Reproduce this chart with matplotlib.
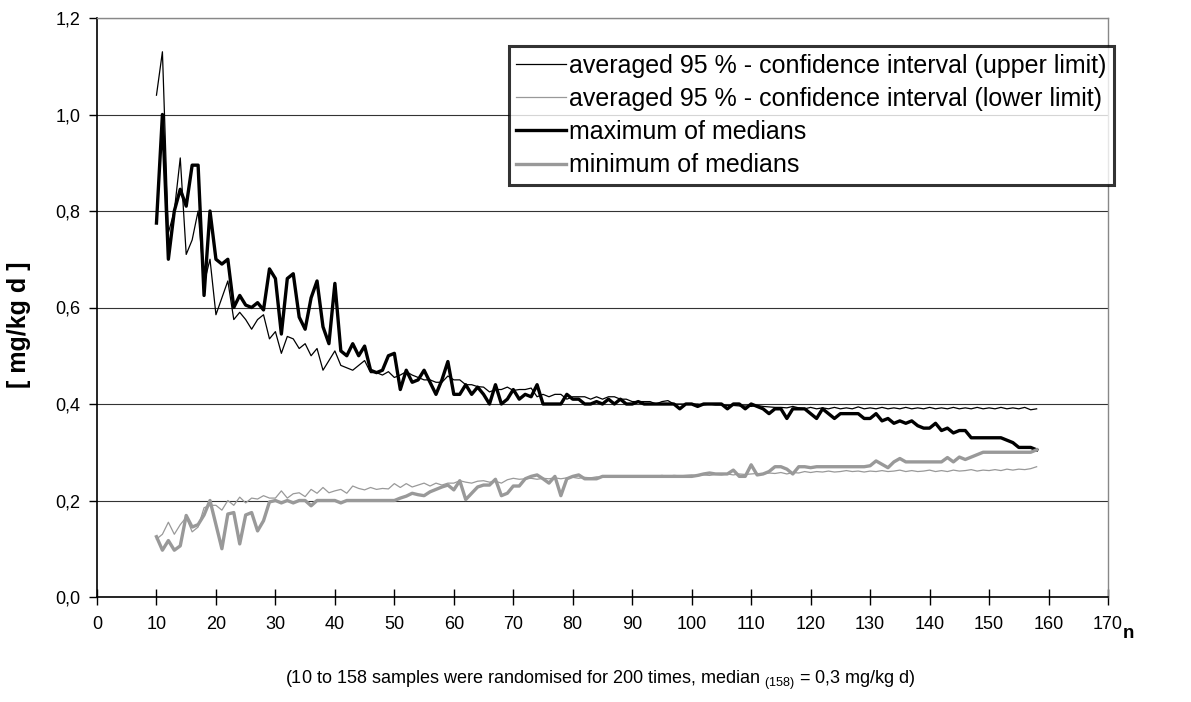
import numpy as np
import matplotlib
matplotlib.use("Agg")
import matplotlib.pyplot as plt

plt.rcParams["font.family"] = ["Liberation Sans", "DejaVu Sans"]
plt.rcParams["mathtext.fontset"] = "custom"
plt.rcParams["mathtext.rm"] = "Liberation Sans"

n_start = 10
n_end = 158

# averaged 95 % - confidence interval (upper limit)
upper = [
    1.04, 1.13, 0.755, 0.80, 0.91, 0.71, 0.74, 0.80, 0.65, 0.70,
    0.585, 0.62, 0.655, 0.575, 0.59, 0.575, 0.555, 0.575, 0.585, 0.535,
    0.55, 0.505, 0.54, 0.535, 0.515, 0.525, 0.50, 0.515, 0.47, 0.49,
    0.51, 0.48, 0.475, 0.47, 0.48, 0.49, 0.465, 0.465, 0.46, 0.467,
    0.455, 0.46, 0.467, 0.46, 0.455, 0.45, 0.45, 0.445, 0.445, 0.458,
    0.45, 0.45, 0.44, 0.44, 0.436, 0.435, 0.425, 0.43, 0.43, 0.435,
    0.428, 0.43, 0.43, 0.433, 0.415, 0.42, 0.415, 0.42, 0.42, 0.41,
    0.415, 0.415, 0.415, 0.41, 0.415, 0.41, 0.415, 0.415, 0.41, 0.41,
    0.405, 0.405, 0.405, 0.405, 0.40, 0.405, 0.407, 0.40, 0.40, 0.40,
    0.40, 0.40, 0.398, 0.40, 0.398, 0.398, 0.397, 0.397, 0.396, 0.396,
    0.395, 0.397, 0.395, 0.394, 0.393, 0.393, 0.392, 0.395, 0.392, 0.39,
    0.393, 0.39, 0.392, 0.39, 0.393, 0.39, 0.392, 0.39, 0.394, 0.39,
    0.392, 0.39, 0.393, 0.39, 0.392, 0.39, 0.393, 0.39, 0.392, 0.39,
    0.393, 0.39, 0.392, 0.39, 0.393, 0.39, 0.392, 0.39, 0.393, 0.39,
    0.392, 0.39, 0.393, 0.39, 0.392, 0.39, 0.393, 0.388, 0.39,
]

# averaged 95 % - confidence interval (lower limit)
lower = [
    0.12, 0.13, 0.155, 0.13, 0.15, 0.165, 0.135, 0.145, 0.185, 0.19,
    0.19, 0.18, 0.20, 0.19, 0.207, 0.195, 0.205, 0.203, 0.21, 0.205,
    0.205, 0.22, 0.205, 0.214, 0.216, 0.208, 0.223, 0.215, 0.227, 0.216,
    0.22, 0.223, 0.215, 0.23, 0.225, 0.222, 0.227, 0.223, 0.225, 0.224,
    0.235, 0.227, 0.235, 0.228, 0.232, 0.236, 0.23, 0.236, 0.232, 0.236,
    0.236, 0.241, 0.238, 0.236, 0.24, 0.241, 0.238, 0.24, 0.236, 0.243,
    0.246, 0.244, 0.245, 0.246, 0.244, 0.246, 0.245, 0.247, 0.245, 0.247,
    0.248, 0.246, 0.248, 0.247, 0.249, 0.248, 0.25, 0.248, 0.25, 0.249,
    0.25, 0.251, 0.249, 0.251, 0.25, 0.252, 0.25, 0.252, 0.251, 0.252,
    0.253, 0.251, 0.253, 0.252, 0.254, 0.253, 0.255, 0.253, 0.255, 0.254,
    0.255, 0.256, 0.255, 0.257, 0.256, 0.258, 0.255, 0.258, 0.257, 0.26,
    0.258, 0.26, 0.259, 0.261, 0.259, 0.26, 0.262, 0.26, 0.261, 0.259,
    0.261, 0.26, 0.262, 0.26, 0.261, 0.263, 0.26, 0.262, 0.26, 0.261,
    0.263, 0.26, 0.262, 0.26, 0.263, 0.261, 0.262, 0.264, 0.261, 0.263,
    0.262, 0.264, 0.262, 0.265, 0.263, 0.265, 0.264, 0.266, 0.27,
]

# maximum of medians
max_med = [
    0.775, 1.00, 0.70, 0.80, 0.845, 0.81, 0.895, 0.895, 0.625, 0.80,
    0.70, 0.69, 0.70, 0.60, 0.625, 0.605, 0.60, 0.61, 0.595, 0.68,
    0.66, 0.545, 0.66, 0.67, 0.58, 0.555, 0.62, 0.655, 0.56, 0.525,
    0.65, 0.51, 0.50, 0.525, 0.50, 0.52, 0.47, 0.465, 0.47, 0.50,
    0.505, 0.43, 0.47, 0.445, 0.45, 0.47, 0.445, 0.42, 0.45, 0.488,
    0.42, 0.42, 0.44, 0.42, 0.435, 0.42, 0.40, 0.44, 0.40, 0.41,
    0.43, 0.41, 0.42, 0.415, 0.44, 0.40, 0.40, 0.40, 0.40, 0.42,
    0.41, 0.41, 0.40, 0.40, 0.405, 0.40, 0.41, 0.40, 0.41, 0.40,
    0.40, 0.405, 0.40, 0.40, 0.40, 0.40, 0.40, 0.40, 0.39, 0.40,
    0.40, 0.395, 0.40, 0.40, 0.40, 0.40, 0.39, 0.40, 0.40, 0.39,
    0.40, 0.395, 0.39, 0.38, 0.39, 0.39, 0.37, 0.39, 0.39, 0.39,
    0.38, 0.37, 0.39, 0.38, 0.37, 0.38, 0.38, 0.38, 0.38, 0.37,
    0.37, 0.38, 0.365, 0.37, 0.36, 0.365, 0.36, 0.365, 0.355, 0.35,
    0.35, 0.36, 0.345, 0.35, 0.34, 0.345, 0.345, 0.33, 0.33, 0.33,
    0.33, 0.33, 0.33, 0.325, 0.32, 0.31, 0.31, 0.31, 0.305,
]

# minimum of medians
min_med = [
    0.125, 0.097, 0.117, 0.097, 0.106, 0.169, 0.145, 0.15, 0.17, 0.20,
    0.15, 0.10, 0.172, 0.175, 0.11, 0.17, 0.175, 0.137, 0.158, 0.197,
    0.20, 0.195, 0.20, 0.195, 0.20, 0.20, 0.189, 0.20, 0.20, 0.20,
    0.20, 0.195, 0.20, 0.20, 0.20, 0.20, 0.20, 0.20, 0.20, 0.20,
    0.20, 0.205, 0.209, 0.215, 0.212, 0.21, 0.218, 0.223, 0.228, 0.232,
    0.222, 0.241, 0.202, 0.215, 0.228, 0.232, 0.232, 0.244, 0.21, 0.215,
    0.23, 0.23, 0.245, 0.25, 0.253, 0.245, 0.236, 0.25, 0.21, 0.245,
    0.25, 0.253, 0.245, 0.245, 0.245, 0.25, 0.25, 0.25, 0.25, 0.25,
    0.25, 0.25, 0.25, 0.25, 0.25, 0.25, 0.25, 0.25, 0.25, 0.25,
    0.25, 0.252, 0.255, 0.257, 0.255, 0.255, 0.255, 0.263, 0.25, 0.25,
    0.274, 0.253, 0.255, 0.26, 0.27, 0.27, 0.265, 0.255, 0.27, 0.27,
    0.268, 0.27, 0.27, 0.27, 0.27, 0.27, 0.27, 0.27, 0.27, 0.27,
    0.272, 0.282, 0.275, 0.268, 0.28, 0.287, 0.28, 0.28, 0.28, 0.28,
    0.28, 0.28, 0.28, 0.289, 0.28, 0.29, 0.285, 0.29, 0.295, 0.30,
    0.30, 0.30, 0.30, 0.30, 0.30, 0.30, 0.30, 0.30, 0.305,
]

labels = [
    "averaged 95 % - confidence interval (upper limit)",
    "averaged 95 % - confidence interval (lower limit)",
    "maximum of medians",
    "minimum of medians",
]

x_ticks = list(range(0, 171, 10))
y_ticks = [0.0, 0.2, 0.4, 0.6, 0.8, 1.0, 1.2]

n = np.arange(n_start, n_end + 1)

fig = plt.figure(figsize=(11.91, 7.02), dpi=100)
ax = fig.add_axes([97 / 1191, 1 - 597 / 702, (1108 - 97) / 1191, (597 - 18) / 702])

ax.plot(n, upper, color="black", lw=0.9, label=labels[0])
ax.plot(n, lower, color="#999999", lw=0.9, label=labels[1])
ax.plot(n, max_med, color="black", lw=2.4, label=labels[2])
ax.plot(n, min_med, color="#999999", lw=2.4, label=labels[3])

ax.set_xlim(0, 170)
ax.set_ylim(0, 1.2)
ax.set_xticks(x_ticks)
ax.set_yticks(y_ticks)
ax.set_yticklabels([f"{v:.1f}".replace(".", ",") for v in y_ticks])
ax.tick_params(axis="x", direction="inout", length=11, width=1, labelsize=13, pad=8)
ax.tick_params(axis="y", direction="out", length=6, width=1, labelsize=13, pad=6)

ax.grid(axis="y", color="#333333", lw=0.8)
ax.set_axisbelow(True)
for side in ["top", "right"]:
    ax.spines[side].set_color("#888888")
    ax.spines[side].set_linewidth(1)
ax.spines["left"].set_linewidth(1.2)
ax.spines["bottom"].set_linewidth(1.2)

fig.text(19 / 1191, 1 - 325 / 702, "[ mg/kg d ]", fontsize=18, fontweight="bold",
         rotation=90, ha="center", va="center")
fig.text(1128 / 1191, 1 - 633 / 702, "n", fontsize=13.5, fontweight="bold",
         ha="center", va="center")
fig.text(600 / 1191, 1 - 680 / 702,
         r"(10 to 158 samples were randomised for 200 times, median $_{\mathregular{(158)}}$ = 0,3 mg/kg d)",
         fontsize=13, ha="center", va="center")

leg = ax.legend(loc="upper right", bbox_to_anchor=(1114 / 1191, 1 - 46 / 702),
                bbox_transform=fig.transFigure, fontsize=18, frameon=True,
                fancybox=False, borderaxespad=0, handlelength=2.0,
                handletextpad=0.12, labelspacing=0.37, borderpad=0.3)
leg.get_frame().set_edgecolor("black")
leg.get_frame().set_linewidth(2.2)

fig.savefig("out.png", dpi=100)
